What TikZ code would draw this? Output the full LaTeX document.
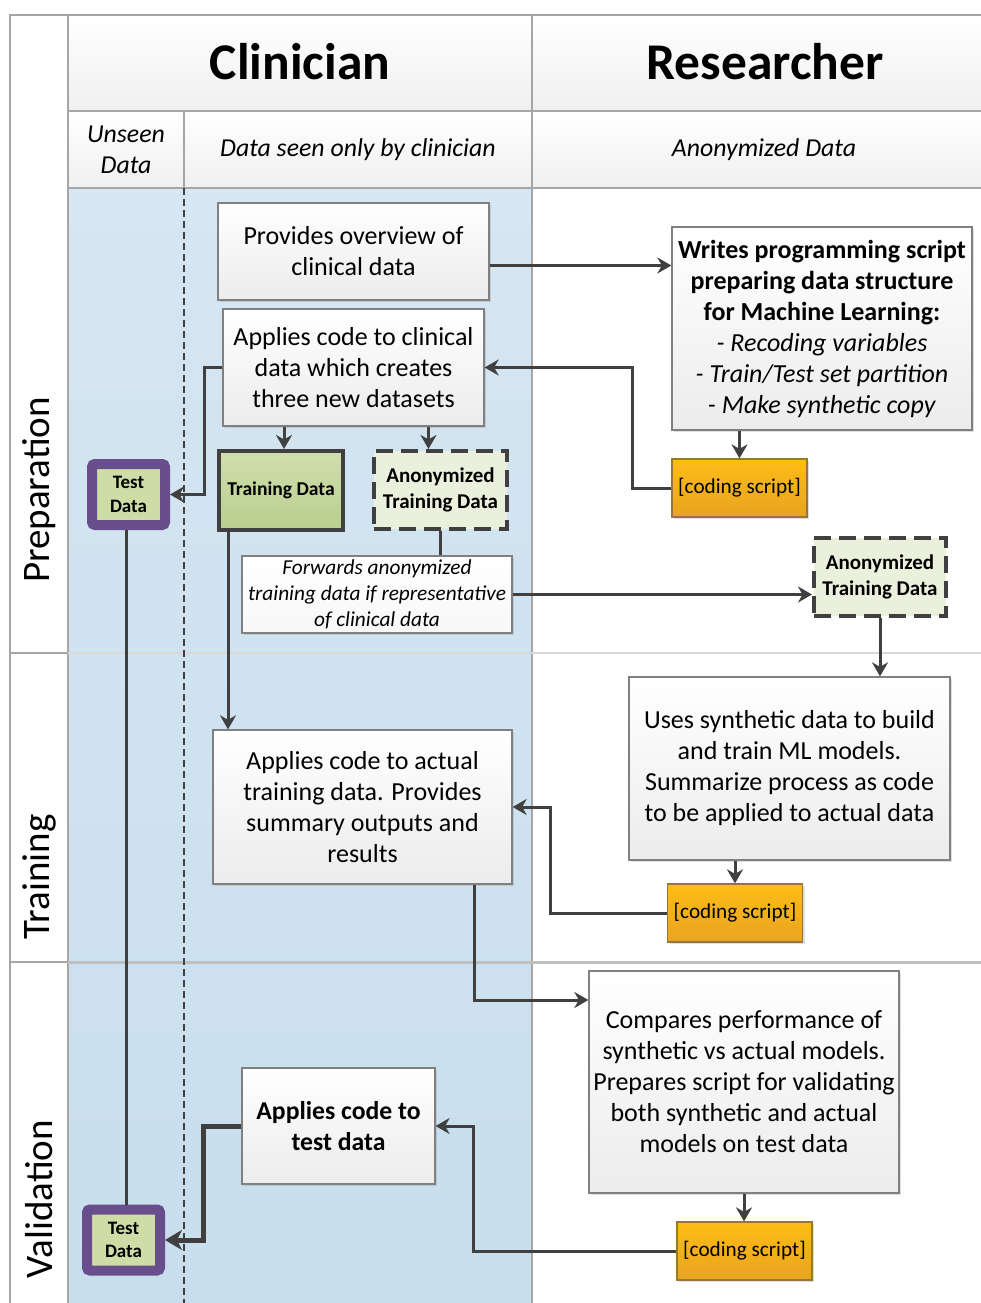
\documentclass[tikz,border=0pt]{standalone}
\usepackage{fontspec}
\setmainfont{Carlito}
\usetikzlibrary{arrows.meta,shadows}

\definecolor{lanetop}{RGB}{214,230,242}
\definecolor{lanebot}{RGB}{200,222,237}
\definecolor{boxedge}{RGB}{128,128,128}
\definecolor{linedark}{RGB}{64,64,64}
\definecolor{scripttop}{RGB}{253,188,22}
\definecolor{scriptbot}{RGB}{232,164,32}
\definecolor{scriptedge}{RGB}{150,118,60}
\definecolor{testpurple}{RGB}{104,78,140}
\definecolor{testgreen}{RGB}{206,220,166}
\definecolor{traintop}{RGB}{208,223,174}
\definecolor{trainbot}{RGB}{185,206,142}
\definecolor{anongreen}{RGB}{234,240,220}

\begin{document}
\begin{tikzpicture}[
    x=1pt, y=-1pt,
    frame/.style={draw=gray!70, line width=1.3pt},
    headcell/.style={frame, top color=white, bottom color=gray!12},
    headtext/.style={font=\fontsize{51.5}{58}\selectfont\bfseries},
    subtext/.style={font=\fontsize{25.8}{30.5}\selectfont\itshape, align=center},
    phasetext/.style={rotate=90, font=\fontsize{39}{46}\selectfont},
    box/.style={draw=boxedge, line width=1.3pt, top color=white, bottom color=gray!15, align=center, inner sep=0pt, font=\fontsize{26}{31}\selectfont, drop shadow={shadow xshift=2pt, shadow yshift=-2pt, opacity=.25, fill=gray}},
    script/.style={draw=scriptedge, line width=1.3pt, top color=scripttop, bottom color=scriptbot, inner sep=0pt, minimum width=135pt, minimum height=58pt, font=\fontsize{21.2}{25}\selectfont, drop shadow={shadow xshift=2pt, shadow yshift=-2pt, opacity=.25, fill=gray}},
    testbox/.style={draw=testpurple, line width=10pt, fill=testgreen, rounded corners=3pt, align=center, inner sep=0pt, minimum width=73pt, minimum height=61pt, font=\fontsize{19}{23.5}\selectfont\bfseries},
    databox/.style={top color=traintop, bottom color=trainbot, draw=linedark, line width=4pt, align=center, inner sep=0pt, font=\fontsize{19.6}{24}\selectfont\bfseries, minimum width=124pt, minimum height=79pt},
    anonbox/.style={fill=anongreen, draw=linedark, line width=4pt, dash pattern=on 17pt off 8pt, align=center, inner sep=0pt, font=\fontsize{21}{25.5}\selectfont\bfseries, minimum width=133pt, minimum height=78pt},
    arrow/.style={draw=linedark, line width=3pt, -{Stealth[length=14pt, width=16pt, inset=4.5pt]}},
    link/.style={draw=linedark, line width=3pt},
    boldarrow/.style={draw=linedark, line width=5pt, -{Stealth[length=17pt, width=20pt, inset=5pt]}}
]
\useasboundingbox (0,0) rectangle (981,1303);
\clip (0,0) rectangle (981,1303);

% lanes and headers
\fill[white] (0,0) rectangle (981,1303);
\path[top color=lanetop, bottom color=lanebot] (68,188) rectangle (532,1320);
\path[headcell] (68,15) rectangle (532,111);
\path[headcell] (532,15) rectangle (1000,111);
\path[headcell] (68,111) rectangle (184,188);
\path[headcell] (184,111) rectangle (532,188);
\path[headcell] (532,111) rectangle (1000,188);
\draw[frame] (10,15) rectangle (68,653);
\draw[frame] (10,653) rectangle (68,962);
\draw[frame] (10,962) rectangle (68,1320);
\draw[frame] (532,188) -- (532,1320);
\draw[gray!30, line width=1.5pt] (68,653) -- (1000,653);
\draw[gray!50, line width=3pt] (68,962) -- (1000,962);
\draw[black!75, line width=1.6pt, dash pattern=on 7pt off 4pt] (184,188) -- (184,1320);

\node[headtext] (clin) at (300,62) {Clinician};
\node[headtext] (res) at (765,62) {Researcher};
\node[subtext] (unseen) at (126,150) {Unseen\\Data};
\node[subtext] (seen) at (358,150) {Data seen only by clinician};
\node[subtext] (anondata) at (764,150) {Anonymized Data};
\node[phasetext] (prep) at (39,490) {Preparation};
\node[phasetext] (trainph) at (39,877) {Training};
\node[phasetext] (valid) at (39,1199) {Validation};

% preparation
\node[box, minimum width=271pt, minimum height=97pt] (overview) at (353.5,251.5) {Provides overview of\\clinical data};
\node[box, minimum width=261pt, minimum height=117pt] (apply1) at (353.5,367.5) {Applies code to clinical\\data which creates\\three new datasets};
\node[box, minimum width=300pt, minimum height=203pt] (writes) at (822,328.5) {\textbf{Writes programming script}\\\textbf{preparing data structure}\\\textbf{for Machine Learning:}\\\textit{- Recoding variables}\\\textit{- Train/Test set partition}\\\textit{- Make synthetic copy}};
\node[script] (script1) at (739.5,488) {[coding script]};
\node[testbox] (test1) at (128.5,494.5) {Test\\Data};
\node[databox] (train) at (281,490.5) {Training Data};
\node[anonbox] (anon1) at (440.5,490) {Anonymized\\Training Data};
\node[box, top color=white, bottom color=gray!6, minimum width=270pt, minimum height=77pt, font=\fontsize{21.3}{25.8}\selectfont\itshape] (fwd) at (377,594.5) {Forwards anonymized\\training data if representative\\of clinical data};
\node[anonbox, minimum width=132pt] (anon2) at (880,577) {Anonymized\\Training Data};

% training
\node[box, minimum width=321pt, minimum height=183pt] (uses) at (789.5,768.5) {Uses synthetic data to build\\and train ML models.\\Summarize process as code\\to be applied to actual data};
\node[script] (script2) at (735,913) {[coding script]};
\node[box, minimum width=299pt, minimum height=154pt] (apply2) at (362.5,807) {Applies code to actual\\training data. Provides\\summary outputs and\\results};

% validation
\node[box, minimum width=310pt, minimum height=222pt] (compare) at (744,1082) {Compares performance of\\synthetic vs actual models.\\Prepares script for validating\\both synthetic and actual\\models on test data};
\node[script] (script3) at (744.5,1251) {[coding script]};
\node[box, minimum width=193pt, minimum height=116pt, font=\fontsize{25.7}{31}\selectfont\bfseries] (applytest) at (338.5,1126) {Applies code to\\test data};
\node[testbox] (test2) at (123.5,1240) {Test\\Data};

\draw[arrow] ([yshift=-14pt]overview.east) -- ([yshift=-14pt]overview.east -| writes.west);
\draw[arrow] (script1.north |- writes.south) -- (script1.north);
\draw[arrow] (script1.west) -- ++(-39,0) |- (apply1.east);
\draw[arrow] ([xshift=3pt]train.north |- apply1.south) -- ([xshift=3pt]train.north);
\draw[arrow] ([xshift=-12pt]anon1.north |- apply1.south) -- ([xshift=-12pt]anon1.north);
\draw[arrow] (apply1.west) -- ++(-18,0) |- (test1.east);
\draw[link] (anon1.south) -- (anon1.south |- fwd.north);
\draw[arrow] (fwd.east) -- (fwd.east -| anon2.west);
\draw[arrow] (anon2.south) -- (anon2.south |- uses.north);
\draw[link] ([xshift=-2.5pt]test1.south) -- ([xshift=-2.5pt]test1.south |- test2.north);
\draw[arrow] ([xshift=11pt]train.south west) -- ([xshift=11pt]train.south west |- apply2.north);
\draw[arrow] (script2.north |- uses.south) -- (script2.north);
\draw[arrow] (script2.west) -- ++(-116,0) |- (apply2.east);
\draw[arrow] ([xshift=-38pt]apply2.south east) |- ([yshift=82pt]compare.west);
\draw[arrow] (compare.south) -- (compare.south |- script3.north);
\draw[arrow] (script3.west) -- ++(-203,0) |- (applytest.east);
\draw[boldarrow] (applytest.west) -- ++(-38,0) |- (test2.east);
\end{tikzpicture}
\end{document}
